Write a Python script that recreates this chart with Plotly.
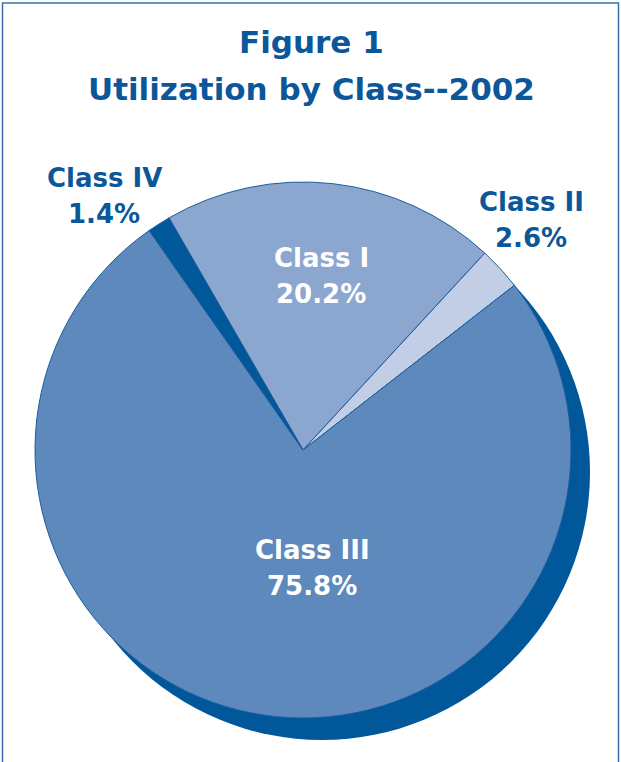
import plotly.graph_objects as go

# ---- data ----
labels = ["Class I", "Class II", "Class III", "Class IV"]
values = [20.2, 2.6, 75.8, 1.4]
slice_colors = ["#8CA7CF", "#C2CEE6", "#5E89BC", "#00589B"]
title_lines = ["Figure 1", "Utilization by Class--2002"]

W, H = 621, 762
FONT = "Comic Sans MS, DejaVu Sans, sans-serif"
DARK = "#0B5799"

def px_dom(cx, cy, r):
    return dict(x=[(cx - r) / W, (cx + r) / W],
                y=[(H - cy - r) / H, (H - cy + r) / H])

fig = go.Figure()

# shadow disc
fig.add_trace(go.Pie(
    values=[sum(values)], labels=["shadow"], sort=False,
    marker=dict(colors=["#00589B"], line=dict(width=0)),
    textinfo="none", hoverinfo="skip", showlegend=False,
    domain=px_dom(322, 472, 268),
))

# main pie
fig.add_trace(go.Pie(
    values=values, labels=labels, sort=False,
    direction="clockwise", rotation=330,
    marker=dict(colors=slice_colors, line=dict(color="#1D5C9C", width=1)),
    textinfo="none", hoverinfo="skip", showlegend=False,
    domain=px_dom(303, 450, 268),
))

# label positions (pixels: center x, cap-center y of first line), colors
label_pos = {
    "Class I": (321, 258, "white"),
    "Class II": (531, 202, DARK),
    "Class III": (312, 550, "white"),
    "Class IV": (104, 178, DARK),
}

annotations = []
for lab, val in zip(labels, values):
    x, y, col = label_pos[lab]
    for k, txt in enumerate([lab, f"{val:.1f}%"]):
        annotations.append(dict(
            x=x / W, y=1 - (y + k * 36) / H, xref="paper", yref="paper",
            text=f"<b>{txt}</b>", showarrow=False,
            xanchor="center", yanchor="middle",
            font=dict(family=FONT, size=26, color=col),
        ))

for k, (t, y) in enumerate(zip(title_lines, [42, 89])):
    annotations.append(dict(
        x=311 / W, y=1 - y / H, xref="paper", yref="paper",
        text=f"<b>{t}</b>", showarrow=False,
        xanchor="center", yanchor="middle",
        font=dict(family=FONT, size=31, color="#0B5799"),
    ))

fig.update_layout(
    width=W, height=H,
    margin=dict(l=0, r=0, t=0, b=0),
    paper_bgcolor="white", plot_bgcolor="white",
    annotations=annotations,
    shapes=[dict(type="rect", xref="paper", yref="paper",
                 x0=2.5 / W, x1=(W - 2.5) / W, y0=-0.05, y1=1 - 3 / H,
                 line=dict(color="#3A70AA", width=1.5))],
)

fig.write_html(
    "out.html",
    config={"displayModeBar": False},
    post_script="document.body.style.margin='0';document.body.style.overflow='hidden';",
)
